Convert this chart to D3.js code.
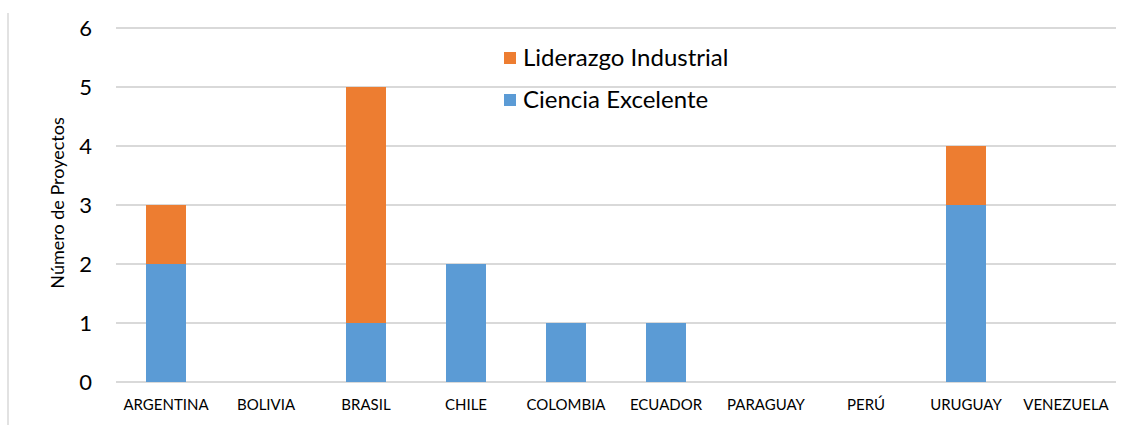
<!DOCTYPE html>
<html>
<head>
<meta charset="utf-8">
<script src="https://cdn.jsdelivr.net/npm/d3@7"></script>
<style>
body { margin: 0; background: #fff; }
text { font-family: Lato, "Open Sans", sans-serif; }
</style>
</head>
<body>
<script>
// data
var paises = ['ARGENTINA', 'BOLIVIA', 'BRASIL', 'CHILE', 'COLOMBIA', 'ECUADOR', 'PARAGUAY', 'PERÚ', 'URUGUAY', 'VENEZUELA'];
var cienciaExcelente = [2, 0, 1, 2, 1, 1, 0, 0, 3, 0];
var liderazgoIndustrial = [1, 0, 4, 0, 0, 0, 0, 0, 1, 0];
var yTicks = [0, 1, 2, 3, 4, 5, 6];
var series = ['Ciencia Excelente', 'Liderazgo Industrial'];
var colores = ['#5B9BD5', '#ED7D31'];

var W = 1137, H = 435;
var margin = { top: 28, right: 21, bottom: 53, left: 116 };
var width = W - margin.left - margin.right;
var height = H - margin.top - margin.bottom;

var svg = d3.select('body').append('svg')
	.attr('width', W)
	.attr('height', H);

// left frame line
svg.append('line')
	.attr('x1', 8).attr('x2', 8)
	.attr('y1', 13).attr('y2', 425)
	.attr('stroke', '#d9d9d9')
	.attr('stroke-width', 1.5);

var g = svg.append('g')
	.attr('transform', 'translate(' + margin.left + ',' + margin.top + ')');

var x = d3.scaleBand().domain(paises).range([0, width]).paddingInner(0.6).paddingOuter(0.3);
var y = d3.scaleLinear().domain([0, 6]).range([height, 0]);

// grid
g.selectAll('.grid').data(yTicks).enter()
	.append('line')
	.attr('class', 'grid')
	.attr('x1', 0).attr('x2', width)
	.attr('y1', function (d) { return y(d); })
	.attr('y2', function (d) { return y(d); })
	.attr('stroke', '#d9d9d9')
	.attr('stroke-width', 2);

// stacked bars
var tabla = paises.map(function (p, i) {
	return { pais: p, 'Ciencia Excelente': cienciaExcelente[i], 'Liderazgo Industrial': liderazgoIndustrial[i] };
});
var stack = d3.stack().keys(series)(tabla);

g.selectAll('.serie').data(stack).enter()
	.append('g')
	.attr('fill', function (d, i) { return colores[i]; })
	.selectAll('rect')
	.data(function (d) { return d; }).enter()
	.append('rect')
	.attr('x', function (d) { return x(d.data.pais); })
	.attr('width', x.bandwidth())
	.attr('y', function (d) { return y(d[1]); })
	.attr('height', function (d) { return y(d[0]) - y(d[1]); });

// y axis
var yAxis = d3.axisLeft(y).tickValues(yTicks).tickFormat(d3.format('d')).tickSize(0).tickPadding(24);
g.append('g').call(yAxis)
	.call(function (s) { s.select('.domain').remove(); })
	.selectAll('text')
	.attr('font-size', '22px')
	.attr('fill', '#000')
	.style('font-family', 'Lato, sans-serif');

// x axis
var xAxis = d3.axisBottom(x).tickSize(0).tickPadding(17);
g.append('g')
	.attr('transform', 'translate(0,' + height + ')')
	.call(xAxis)
	.call(function (s) { s.select('.domain').remove(); })
	.selectAll('text')
	.attr('font-size', '15px')
	.attr('fill', '#000')
	.style('font-family', 'Lato, sans-serif');

// y title
svg.append('text')
	.attr('transform', 'translate(64,203) rotate(-90)')
	.attr('text-anchor', 'middle')
	.attr('font-size', '18px')
	.attr('fill', '#000')
	.text('Número de Proyectos');

// legend
var leyenda = [
	{ nombre: 'Liderazgo Industrial', color: colores[1] },
	{ nombre: 'Ciencia Excelente', color: colores[0] }
];
var lg = svg.append('g').attr('transform', 'translate(504,52)');
var item = lg.selectAll('g').data(leyenda).enter()
	.append('g')
	.attr('transform', function (d, i) { return 'translate(0,' + (i * 42) + ')'; });
item.append('rect')
	.attr('width', 12).attr('height', 12)
	.attr('fill', function (d) { return d.color; });
item.append('text')
	.attr('x', 19)
	.attr('y', 14)
	.attr('font-size', '24px')
	.attr('fill', '#000')
	.text(function (d) { return d.nombre; });
</script>
</body>
</html>
